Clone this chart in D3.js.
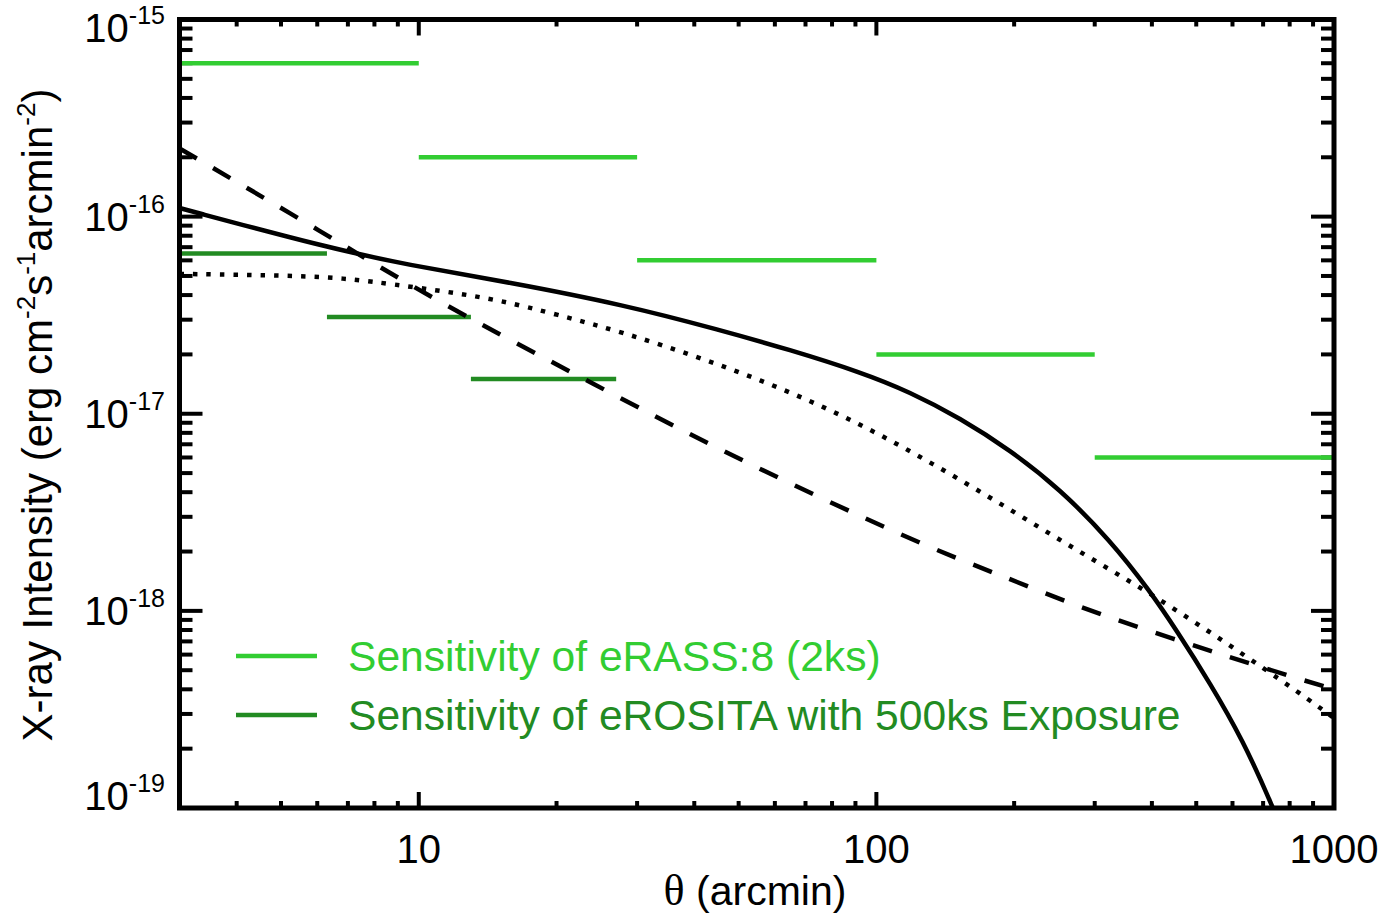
<!DOCTYPE html>
<html>
<head>
<meta charset="utf-8">
<script src="https://cdn.jsdelivr.net/npm/d3@7"></script>
<style>
  body { margin: 0; background: #fff; }
  svg { display: block; }
  text { font-family: "Liberation Sans", Arial, sans-serif; }
</style>
</head>
<body>
<svg id="chart" width="1383" height="917"></svg>
<script>
// Axis ranges and tick labels
const thetaDomain = [3, 1000];
const fluxDomain = [1e-19, 1e-15];
const xLabelValues = [10, 100, 1000];
const xLabelTexts = ["10", "100", "1000"];
const yLabelValues = [1e-19, 1e-18, 1e-17, 1e-16, 1e-15];
const yLabelExponents = ["-19", "-18", "-17", "-16", "-15"];

// Model profile, solid line
const solidTheta = [3, 6.24, 9.47, 15.66, 28.2, 45.5, 64.7, 92.1, 118.4, 152.3, 195.8, 251.8, 323.8, 396.1, 453.8, 535.7, 632.4, 735.6, 801];
const solidFlux  = [1.106e-16, 7.01e-17, 5.68e-17, 4.66e-17, 3.56e-17, 2.66e-17, 2.11e-17, 1.629e-17, 1.289e-17, 9.51e-18, 6.55e-18, 4.15e-18, 2.29e-18, 1.261e-18, 7.90e-19, 4.31e-19, 2.21e-19, 1.01e-19, 6.12e-20];

// Model profile, dashed line
const dashedTheta = [3, 6.27, 10.5, 25.5, 43.6, 75.1, 129.9, 189, 276, 402.6, 593, 855, 1000];
const dashedFlux  = [2.22e-16, 8.15e-17, 3.91e-17, 1.32e-17, 6.89e-18, 3.76e-18, 2.10e-18, 1.50e-18, 1.05e-18, 7.78e-19, 5.82e-19, 4.45e-19, 4.01e-19];

// Model profile, dotted line
const dottedTheta = [3, 4.34, 5.76, 7.05, 8.76, 11.55, 15.1, 19.9, 28.1, 41.9, 62.6, 92.2, 133, 193, 275, 397, 584, 843, 1000];
const dottedFlux  = [5.12e-17, 5.06e-17, 4.98e-17, 4.84e-17, 4.54e-17, 4.16e-17, 3.76e-17, 3.20e-17, 2.58e-17, 1.90e-17, 1.34e-17, 8.90e-18, 5.58e-18, 3.34e-18, 2.02e-18, 1.23e-18, 6.84e-19, 3.82e-19, 2.86e-19];

// eRASS:8 (2ks) sensitivity per radial bin
const erassStart = [3, 10, 30, 100, 300];
const erassEnd   = [10, 30, 100, 300, 1000];
const erassFlux  = [6e-16, 2e-16, 6e-17, 2e-17, 6e-18];

// eROSITA 500ks sensitivity per radial bin
const deepStart = [3, 6.3, 13];
const deepEnd   = [6.3, 13, 27];
const deepFlux  = [6.5e-17, 3.1e-17, 1.5e-17];

const legendLabels = ["Sensitivity of eRASS:8 (2ks)", "Sensitivity of eROSITA with 500ks Exposure"];

const lightGreen = "#32cd32";
const darkGreen = "#228b22";

const svg = d3.select("#chart");
const plotLeft = 179.5, plotRight = 1334, plotTop = 19.5, plotBottom = 808;

const x = d3.scaleLog().domain(thetaDomain).range([plotLeft, plotRight]);
const y = d3.scaleLog().domain(fluxDomain).range([plotBottom, plotTop]);

svg.append("defs").append("clipPath").attr("id", "plotClip")
  .append("rect").attr("x", plotLeft).attr("y", plotTop)
  .attr("width", plotRight - plotLeft).attr("height", plotBottom - plotTop);

// Ticks on all four sides (drawn first so the data sit on top of them)
const axes = svg.append("g").attr("stroke", "#000").attr("stroke-width", 4);
const isMajor = v => Math.abs(Math.log10(v) - Math.round(Math.log10(v))) < 1e-6;
x.ticks().forEach(v => {
  const px = x(v), len = isMajor(v) ? 16 : 7;
  axes.append("line").attr("x1", px).attr("x2", px).attr("y1", plotBottom).attr("y2", plotBottom - len);
  axes.append("line").attr("x1", px).attr("x2", px).attr("y1", plotTop).attr("y2", plotTop + len);
});
y.ticks().forEach(v => {
  const py = y(v), len = isMajor(v) ? 23 : 13;
  axes.append("line").attr("y1", py).attr("y2", py).attr("x1", plotLeft).attr("x2", plotLeft + len);
  axes.append("line").attr("y1", py).attr("y2", py).attr("x1", plotRight).attr("x2", plotRight - len);
});

const plot = svg.append("g").attr("clip-path", "url(#plotClip)");

// Sensitivity segments
function drawSegments(starts, ends, fluxes, color) {
  plot.append("g").selectAll("line")
    .data(starts.map((s, i) => ({ s, e: ends[i], f: fluxes[i] })))
    .join("line")
    .attr("x1", d => x(d.s)).attr("x2", d => x(d.e))
    .attr("y1", d => y(d.f)).attr("y2", d => y(d.f))
    .attr("stroke", color).attr("stroke-width", 4.5);
}
drawSegments(erassStart, erassEnd, erassFlux, lightGreen);
drawSegments(deepStart, deepEnd, deepFlux, darkGreen);

// Profiles (smoothed B-spline through the sampled values)
const line = d3.line().x(d => x(d[0])).y(d => y(d[1])).curve(d3.curveBasis);
function drawProfile(thetas, fluxes, dash) {
  plot.append("path")
    .datum(thetas.map((t, i) => [t, fluxes[i]]))
    .attr("d", line)
    .attr("fill", "none").attr("stroke", "#000").attr("stroke-width", 4.5)
    .attr("stroke-dasharray", dash);
}
drawProfile(solidTheta, solidFlux, null);
drawProfile(dashedTheta, dashedFlux, "20 19");
drawProfile(dottedTheta, dottedFlux, "4.5 9");

// Frame
svg.append("rect").attr("x", plotLeft).attr("y", plotTop)
  .attr("width", plotRight - plotLeft).attr("height", plotBottom - plotTop)
  .attr("fill", "none").attr("stroke", "#000").attr("stroke-width", 5);

// X tick labels
svg.append("g").selectAll("text").data(xLabelValues).join("text")
  .attr("x", d => x(d)).attr("y", 863)
  .attr("text-anchor", "middle").attr("font-size", 40)
  .text((d, i) => xLabelTexts[i]);

// Y tick labels (powers of ten)
yLabelValues.forEach((v, i) => {
  let base = y(v) + 14;
  if (i === yLabelValues.length - 1) base = 42;
  if (i === 0) base = 810;
  const t = svg.append("text").attr("x", 165).attr("y", base)
    .attr("text-anchor", "end").attr("font-size", 40);
  t.append("tspan").text("10");
  t.append("tspan").attr("dy", -18).attr("font-size", 25).text(yLabelExponents[i]);
});

// Axis titles
const xt = svg.append("text").attr("x", 755).attr("y", 905)
  .attr("text-anchor", "middle").attr("font-size", 41);
xt.append("tspan").attr("font-family", "'Liberation Serif', 'DejaVu Serif', serif").attr("font-size", 44).text("θ");
xt.append("tspan").text(" (arcmin)");

const yt = svg.append("text")
  .attr("transform", "translate(52,415) rotate(-90)")
  .attr("text-anchor", "middle").attr("font-size", 42);
const parts = [
  ["X-ray Intensity (erg cm", false], ["-2", true], ["s", false],
  ["-1", true], ["arcmin", false], ["-2", true], [")", false]
];
parts.forEach(([txt, sup], i) => {
  const prevSup = i > 0 && parts[i - 1][1];
  const ts = yt.append("tspan").text(txt);
  if (sup) ts.attr("dy", -17).attr("font-size", 26);
  else if (prevSup) ts.attr("dy", 17);
});

// Legend
const legendColors = [lightGreen, darkGreen];
const legendY = [656, 715];
legendLabels.forEach((lab, i) => {
  svg.append("line").attr("x1", 236).attr("x2", 317)
    .attr("y1", legendY[i]).attr("y2", legendY[i])
    .attr("stroke", legendColors[i]).attr("stroke-width", 4.5);
  svg.append("text").attr("x", 348).attr("y", legendY[i] + 15)
    .attr("font-size", 42.6).attr("fill", legendColors[i]).text(lab);
});
</script>
</body>
</html>
